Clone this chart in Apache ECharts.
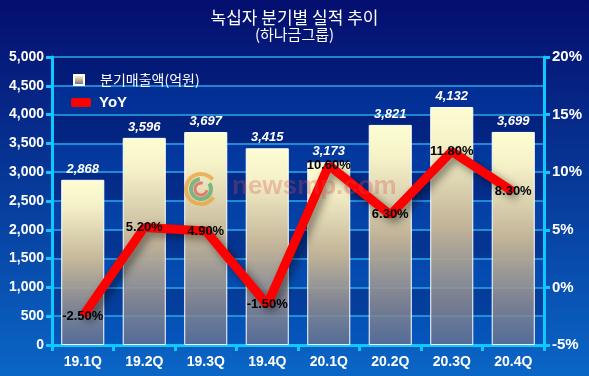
<!DOCTYPE html>
<html>
<head>
<meta charset="utf-8">
<script src="https://cdn.jsdelivr.net/npm/echarts@6/dist/echarts.min.js"></script>
<style>
  html, body { margin: 0; padding: 0; }
  #main { width: 589px; height: 376px; }
</style>
</head>
<body>
<div id="main"></div>
<script>
var categories = ['19.1Q', '19.2Q', '19.3Q', '19.4Q', '20.1Q', '20.2Q', '20.3Q', '20.4Q'];
var sales = [2868, 3596, 3697, 3415, 3173, 3821, 4132, 3699];
var yoy = [-2.5, 5.2, 4.9, -1.5, 10.6, 6.3, 11.8, 8.3];

var cyan = '#0fc8ff';
var font = 'Arial, "Liberation Sans", "Noto Sans CJK KR", sans-serif';
var krFont = '"Noto Sans CJK KR", sans-serif';

var myChart = echarts.init(document.getElementById('main'));

var option = {
    backgroundColor: new echarts.graphic.LinearGradient(0, 0, 0, 1, [
        { offset: 0, color: '#040e6e' },
        { offset: 1, color: '#0a66c6' }
    ]),
    animation: false,
    title: {
        text: '녹십자 분기별 실적 추이',
        subtext: '(하나금그룹)',
        left: 'center',
        top: 4,
        itemGap: 1,
        textStyle: { color: '#fff', fontSize: 17, fontWeight: 'normal', fontFamily: krFont },
        subtextStyle: { color: '#fff', fontSize: 15, fontFamily: krFont }
    },
    legend: [{
        data: ['분기매출액(억원)'],
        left: 68,
        top: 68,
        itemWidth: 10,
        itemHeight: 10,
        icon: 'rect',
        textStyle: { color: '#fff', fontSize: 14, fontFamily: krFont, padding: [0, 0, 0, 11] }
    }, {
        data: ['YoY'],
        left: 66,
        top: 90,
        itemWidth: 20,
        itemHeight: 9,
        icon: 'roundRect',
        textStyle: { color: '#fff', fontSize: 15, fontWeight: 'bold', fontFamily: font, padding: [0, 0, 0, 3] }
    }],
    grid: { left: 52, right: 45, top: 57, bottom: 31 },
    xAxis: {
        type: 'category',
        data: categories,
        axisLine: { lineStyle: { color: cyan, width: 3 } },
        axisTick: { show: true, length: 6, lineStyle: { color: cyan, width: 3 } },
        axisLabel: { color: '#fff', fontSize: 14, fontWeight: 'bold', fontFamily: font, margin: 10 }
    },
    yAxis: [{
        type: 'value',
        min: 0,
        max: 5000,
        interval: 500,
        axisLine: { show: true, lineStyle: { color: cyan, width: 3 } },
        axisTick: { show: true, length: 6, lineStyle: { color: cyan, width: 3 } },
        axisLabel: {
            color: '#fff', fontSize: 14, fontWeight: 'bold', fontFamily: font, margin: 8,
            formatter: function (v) { return v.toLocaleString('en-US'); }
        },
        splitLine: { show: true, lineStyle: { color: '#2aa8e8', width: 1.5 } },
        splitArea: { show: true, areaStyle: { color: ['rgba(0,70,180,0.35)', 'rgba(0,20,110,0.35)'] } }
    }, {
        type: 'value',
        min: -5,
        max: 20,
        interval: 5,
        axisLine: { show: true, lineStyle: { color: cyan, width: 3 } },
        axisTick: { show: true, length: 6, lineStyle: { color: cyan, width: 3 } },
        axisLabel: {
            color: '#fff', fontSize: 15, fontWeight: 'bold', fontFamily: font, margin: 8,
            formatter: '{value}%'
        },
        splitLine: { show: false }
    }],
    graphic: [{
        type: 'arc',
        z: 100,
        silent: true,
        shape: { cx: 201, cy: 189, r: 15, startAngle: 0.6, endAngle: 5.6 },
        style: { stroke: 'rgba(235,160,60,0.75)', lineWidth: 4, fill: null }
    }, {
        type: 'arc',
        z: 100,
        silent: true,
        shape: { cx: 201, cy: 189, r: 10, startAngle: -0.6, endAngle: 4.6 },
        style: { stroke: 'rgba(90,170,110,0.75)', lineWidth: 4, fill: null }
    }, {
        type: 'arc',
        z: 100,
        silent: true,
        shape: { cx: 201, cy: 189, r: 6, startAngle: 0.2, endAngle: 5.0 },
        style: { stroke: 'rgba(225,90,90,0.75)', lineWidth: 3, fill: null }
    }, {
        type: 'text',
        z: 100,
        left: 232,
        top: 174,
        silent: true,
        style: { text: 'newsmp.com', fill: 'rgba(215,80,80,0.3)', font: 'bold 26px Arial' }
    }],
    series: [{
        name: '분기매출액(억원)',
        type: 'bar',
        data: sales,
        barCategoryGap: '30%',
        itemStyle: {
            color: new echarts.graphic.LinearGradient(0, 0, 0, 1, [
                { offset: 0, color: '#fdfdd2' },
                { offset: 0.15, color: '#f6f2c8' },
                { offset: 0.5, color: '#c2b498' },
                { offset: 1, color: 'rgba(110,115,140,0.75)' }
            ]),
            borderColor: '#ffffff',
            borderWidth: 1
        },
        label: {
            show: true,
            position: 'top',
            distance: 4,
            color: '#fff',
            fontSize: 13,
            fontStyle: 'italic',
            fontWeight: 'bold',
            fontFamily: font,
            formatter: function (p) { return p.value.toLocaleString('en-US'); }
        }
    }, {
        name: 'YoY',
        type: 'line',
        yAxisIndex: 1,
        data: yoy,
        symbol: 'circle',
        symbolSize: 1,
        showSymbol: true,
        itemStyle: { color: '#ff0000' },
        lineStyle: {
            color: '#ff0000',
            width: 9,
            shadowColor: 'rgba(0,0,0,0.45)',
            shadowBlur: 8,
            shadowOffsetX: 4,
            shadowOffsetY: 4
        },
        label: {
            show: true,
            position: 'inside',
            color: '#000',
            fontSize: 13,
            fontWeight: 'bold',
            fontFamily: font,
            formatter: function (p) { return p.value.toFixed(2) + '%'; }
        },
        z: 5
    }]
};

myChart.setOption(option);
</script>
</body>
</html>
